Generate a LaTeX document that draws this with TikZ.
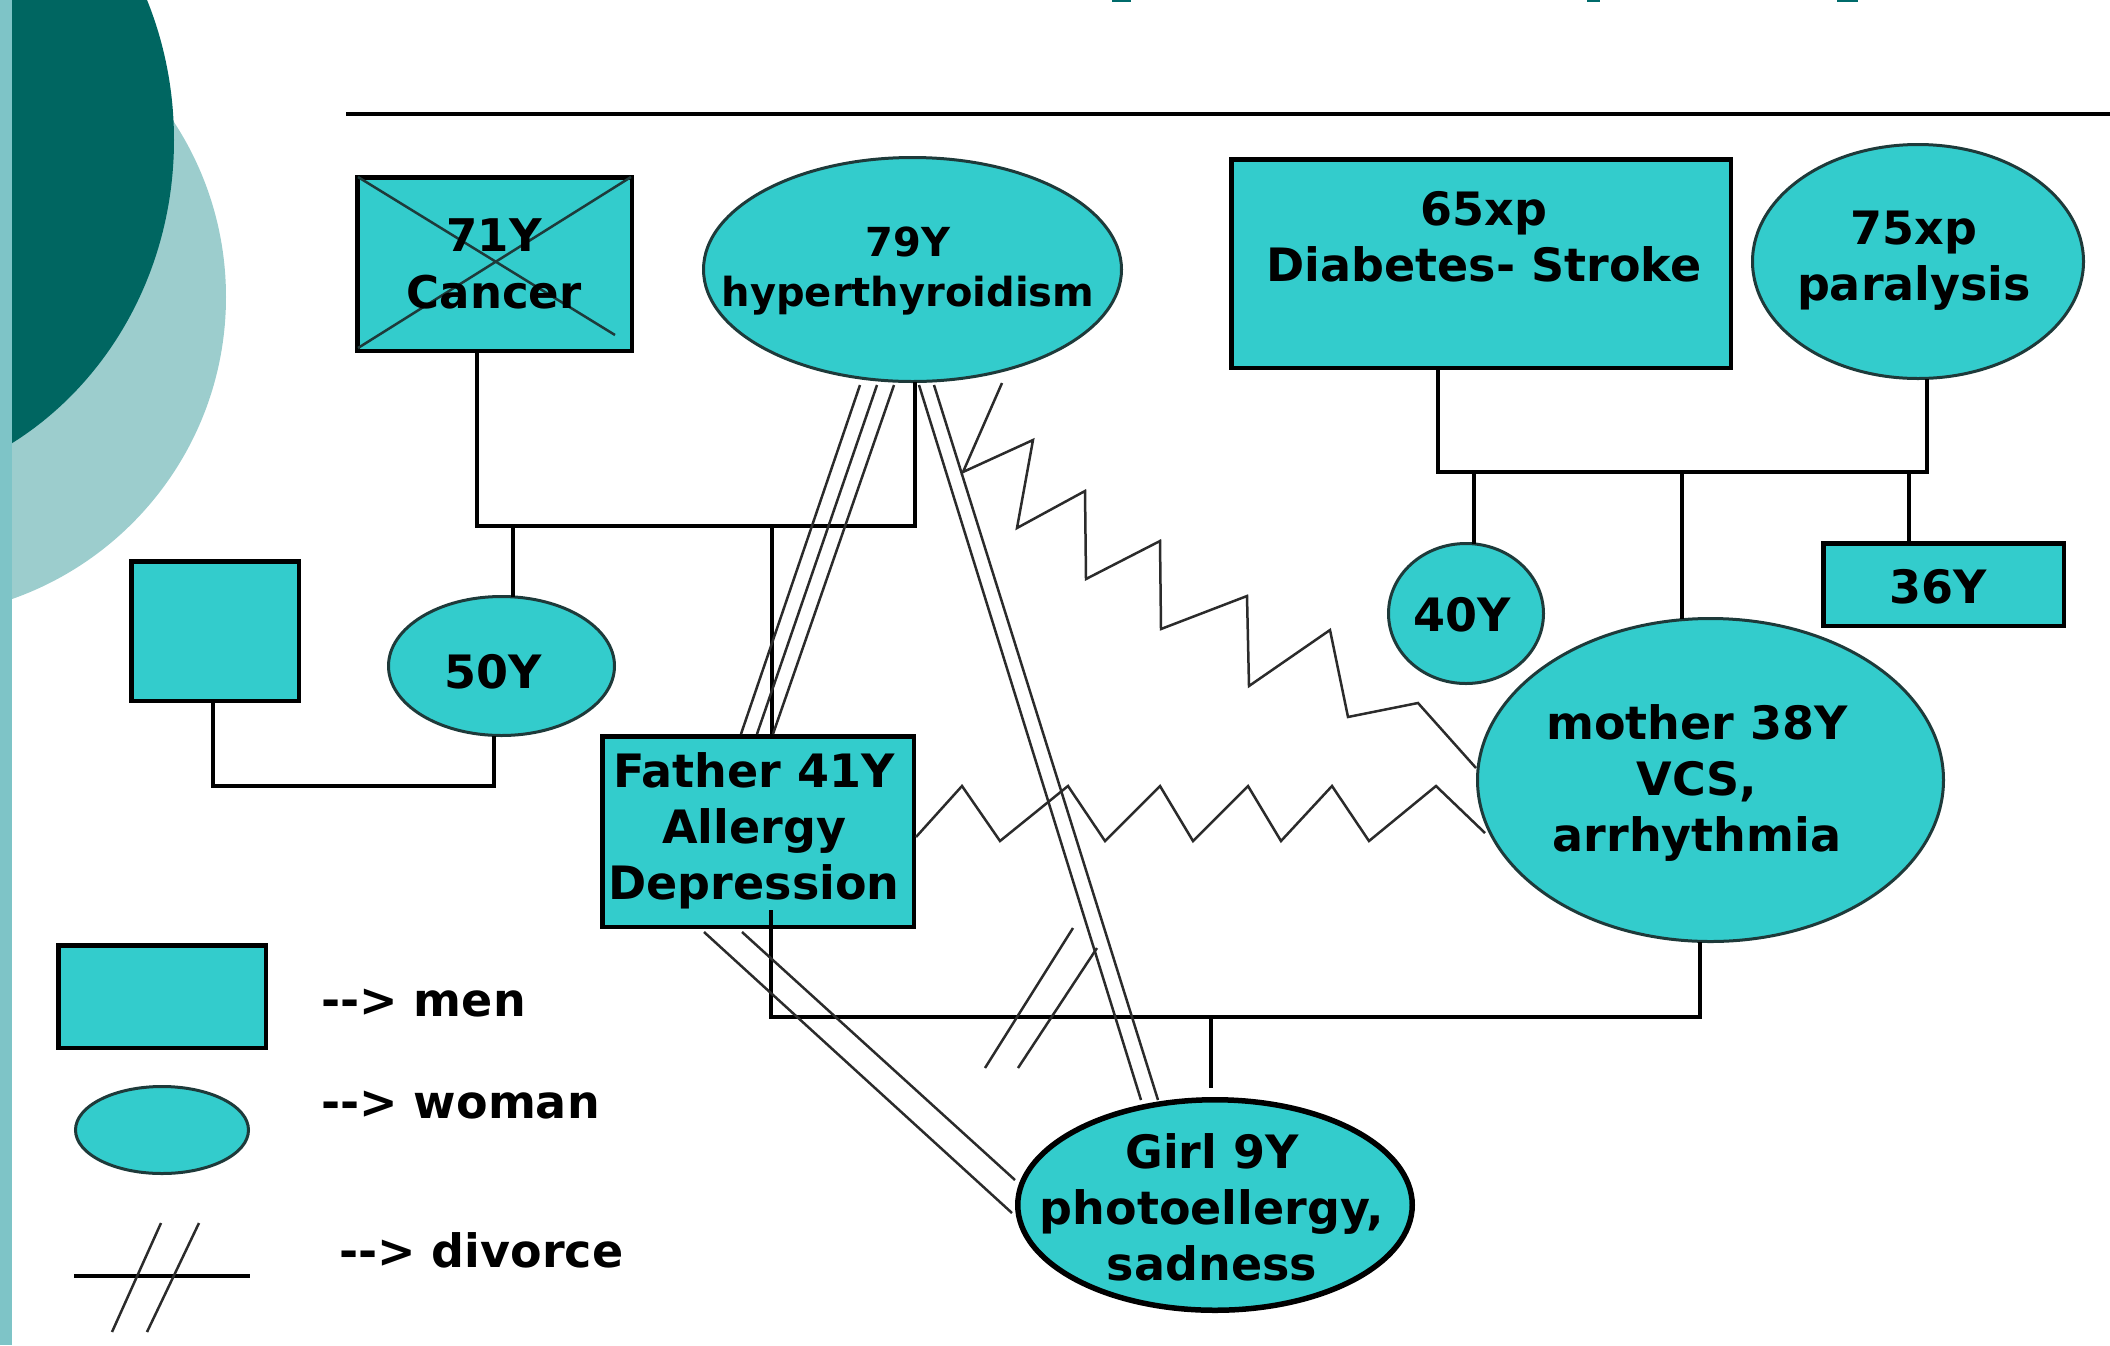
\documentclass[tikz,border=0pt]{standalone}
\usepackage{fontspec}
\newfontfamily\dv{DejaVu Sans}
\usetikzlibrary{shapes.geometric}
\definecolor{nodefill}{HTML}{33CCCC}
\definecolor{darkteal}{HTML}{006661}
\definecolor{lightteal}{HTML}{9CCDCD}
\definecolor{stripteal}{HTML}{7EC4C7}
\definecolor{relgray}{HTML}{2B2B2B}
\definecolor{ebord}{HTML}{1E3A3A}
\definecolor{titleteal}{HTML}{006B6B}
\tikzset{
  male/.style={rectangle, draw=black, line width=4.5pt, fill=nodefill, inner sep=0pt, outer sep=0pt},
  female/.style={ellipse, draw=ebord, line width=3pt, fill=nodefill, inner sep=0pt, outer sep=0pt},
  lbl/.style={font=\dv\bfseries\fontsize{46}{56}\selectfont, align=center, inner sep=0pt},
  lblsmall/.style={font=\dv\bfseries\fontsize{40}{50}\selectfont, align=center, inner sep=0pt},
  famline/.style={draw=black, line width=4.5pt},
  relline/.style={draw=relgray, line width=2.5pt, line join=miter},
  crossline/.style={draw=ebord, line width=2.5pt}
}
\begin{document}
\begin{tikzpicture}[x=1pt,y=-1pt]
\useasboundingbox (0,0) rectangle (2110,1345);
% background decoration
\begin{scope}
\clip (0,0) rectangle (2110,1345);
\fill[lightteal] (-94,297) circle (320);
\fill[darkteal] (-150,140) ellipse [x radius=324, y radius=350];
\fill[stripteal] (0,0) rectangle (12,1345);
\fill[titleteal] (1112,0) rectangle (1131,2);
\fill[titleteal] (1587,0) rectangle (1600,2);
\fill[titleteal] (1837,0) rectangle (1858,2);
\end{scope}
% title rule
\coordinate (ruleL) at (346,114);
\coordinate (ruleR) at (2110,114);
\draw[line width=4pt] (ruleL) -- (ruleR);

% people
\node[male, minimum width=274.5, minimum height=173.5] (cancer) at (494.5,264) {};
\draw[crossline] (358,177) -- (615,335);
\draw[crossline] (631,177) -- (358,348);
\node[lbl, font=\dv\bfseries\fontsize{45}{57}\selectfont] (t71) at (494,264) {71Y\\Cancer};

\node[female, minimum width=418, minimum height=224] (g79) at (912.5,269.5) {};
\node[lblsmall] (t79) at (908,271) {79Y\\hyperthyroidism};

\node[male, minimum width=499.5, minimum height=208.5] (d65) at (1481,263.5) {};
\node[lbl] (t65) at (1484,237) {65xp\\Diabetes- Stroke};

\node[female, minimum width=331, minimum height=234] (g75) at (1918,261.5) {};
\node[lbl] (t75) at (1914,261) {75xp\\paralysis};

\node[male, minimum width=167.5, minimum height=139.5] (sq) at (215,631) {};

\node[female, minimum width=226, minimum height=139] (g50) at (501.5,666) {};
\node[lbl] (t50) at (493,672) {50Y};

\node[female, minimum width=155, minimum height=140] (g40) at (1466,613.5) {};
\node[lbl] (t40) at (1462,615) {40Y};

\node[male, minimum width=240.5, minimum height=82.5] (m36) at (1943.5,584.5) {};
\node[lbl] (t36) at (1938,587) {36Y};

\node[female, minimum width=466, minimum height=323] (mother) at (1710.5,780) {};
\node[lbl] (tmother) at (1697,783) {mother 38Y\\VCS,\\arrhythmia};

\node[male, minimum width=311.5, minimum height=190.5] (father) at (758,831.5) {};
\node[lbl] (tfather) at (754,831) {Father 41Y\\Allergy\\Depression};

\node[female, draw=black, line width=5.5pt, minimum width=394.5, minimum height=210.5] (girl) at (1215,1205) {};
\node[lbl] (tgirl) at (1212,1207) {Girl 9Y\\photoellergy,\\sadness};

% family lines
\draw[famline] (cancer.south -| 477,0) |- (915,526) -- (g79.south -| 915,0);
\draw[famline] (513,526) -- (g50.north -| 513,0);
\draw[famline] (772,526) -- (father.north -| 772,0);
\draw[famline] (sq.south -| 213,0) |- (494,786) -- (g50.south -| 494,0);
\draw[famline] (d65.south -| 1438,0) |- (1927,472) -- (g75.south -| 1927,0);
\draw[famline] (1474,472) -- (g40.north -| 1474,0);
\draw[famline] (1682,472) -- (mother.north -| 1682,0);
\draw[famline] (1909,472) -- (m36.north -| 1909,0);
\draw[famline] (771,910) |- (1700,1017) -- (mother.south -| 1700,0);
\coordinate (girltop) at (1211,1088);
\draw[famline] (1211,1017) -- (girltop);

% relationship lines
\draw[relline] (860,385) -- (741,734);
\draw[relline] (877,385) -- (757,734);
\draw[relline] (894,385) -- (773,734);
\draw[relline] (919,385) -- (1141,1100);
\draw[relline] (934,385) -- (1158,1100);
\draw[relline] (704,932) -- (1012,1213);
\draw[relline] (742,932) -- (1015,1180);
\draw[relline] (1073,928) -- (985,1068);
\draw[relline] (1097,948) -- (1018,1068);
\draw[relline] (1002,383) -- (963,472) -- (1033,440) -- (1017,528) -- (1085,491) -- (1086,579) -- (1160,541) -- (1161,629) -- (1247,596) -- (1249,686) -- (1330,630) -- (1348,717) -- (1418,703) -- (1476,768);
\draw[relline] (916,837) -- (962,786) -- (1000,841) -- (1068,786) -- (1105,841) -- (1160,786) -- (1193,841) -- (1248,786) -- (1281,841) -- (1332,786) -- (1369,841) -- (1436,786) -- (1485,833);

% legend
\node[male, minimum width=207.5, minimum height=102.5] (legmen) at (162,996.5) {};
\node[lbl, anchor=west] (legmentxt) at (321,1003) {-{}-> men};
\node[female, minimum width=173, minimum height=87] (legwoman) at (162,1130) {};
\node[lbl, anchor=west] (legwomantxt) at (321,1105) {-{}-> woman};
\coordinate (divL) at (74,1276);
\coordinate (divR) at (250,1276);
\draw[line width=4pt] (divL) -- (divR);
\draw[relline] (161,1223) -- (112,1332);
\draw[relline] (199,1223) -- (147,1332);
\node[lbl, anchor=west] (legdivtxt) at (339,1250) {-{}-> divorce};
\end{tikzpicture}
\end{document}
